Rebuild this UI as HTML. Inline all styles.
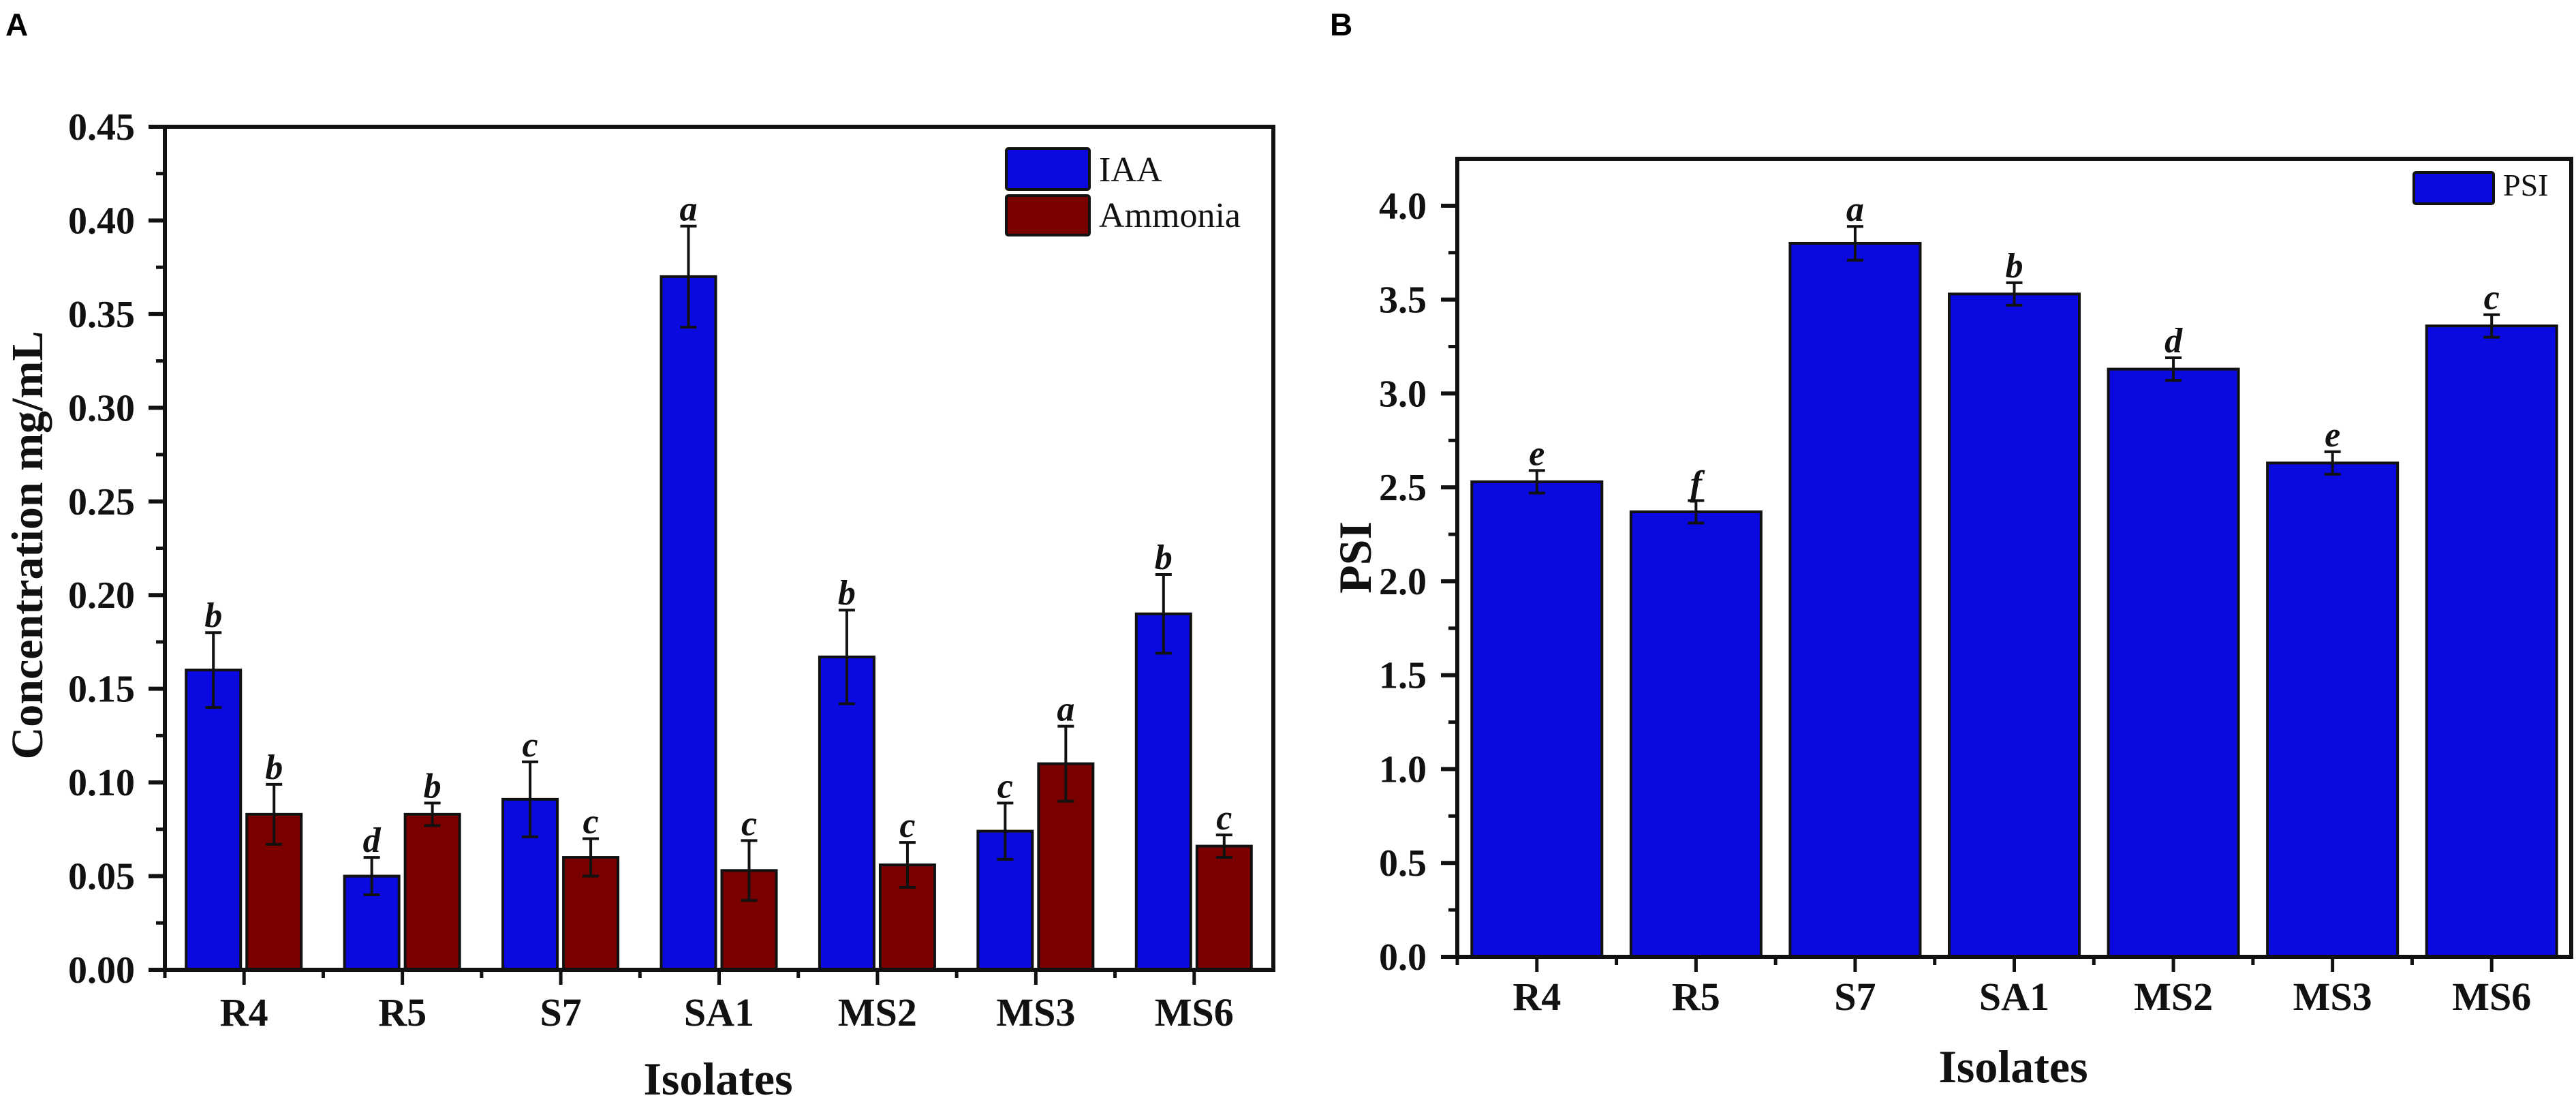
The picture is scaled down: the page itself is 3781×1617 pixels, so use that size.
<!DOCTYPE html>
<html><head><meta charset="utf-8"><style>
html,body{margin:0;padding:0;background:#fff;}
svg{display:block;}
text{font-family:"Liberation Serif",serif;}
</style></head><body>
<svg id="fig" width="3781" height="1617" viewBox="0 0 3781 1617" xmlns="http://www.w3.org/2000/svg">
<text x="8" y="52" font-family="Liberation Sans, sans-serif" font-weight="bold" font-size="46" style="font-family:'Liberation Sans',sans-serif">A</text>
<text x="1952" y="52" font-weight="bold" font-size="46" style="font-family:'Liberation Sans',sans-serif">B</text>
<g id="chartA"></g>
<g id="chartB"></g>
</svg>
<script>
const categories = ["R4","R5","S7","SA1","MS2","MS3","MS6"];
const iaaValues = [0.160,0.050,0.091,0.370,0.167,0.074,0.190];
const iaaErrors = [0.020,0.010,0.020,0.027,0.025,0.015,0.021];
const iaaLetters = ["b","d","c","a","b","c","b"];
const ammoniaValues = [0.083,0.083,0.060,0.053,0.056,0.110,0.066];
const ammoniaErrors = [0.016,0.006,0.010,0.016,0.012,0.020,0.006];
const ammoniaLetters = ["b","b","c","c","c","a","c"];
const yTicksA = ["0.00","0.05","0.10","0.15","0.20","0.25","0.30","0.35","0.40","0.45"];
const psiValues = [2.53,2.37,3.80,3.53,3.13,2.63,3.36];
const psiErrors = [0.06,0.06,0.09,0.06,0.06,0.06,0.06];
const psiLetters = ["e","f","a","b","d","e","c"];
const yTicksB = ["0.0","0.5","1.0","1.5","2.0","2.5","3.0","3.5","4.0"];

const NS="http://www.w3.org/2000/svg";
function mk(parent,tag,attrs,txt){const e=document.createElementNS(NS,tag);for(const k in attrs)e.setAttribute(k,attrs[k]);if(txt!==undefined)e.textContent=txt;parent.appendChild(e);return e;}

function drawChart(g, cfg){
  const L=cfg.left,R=cfg.right,T=cfg.top,B=cfg.bottom;
  const y=v=>B-(v-cfg.ymin)/(cfg.ymax-cfg.ymin)*(B-T);
  const step=(R-L)/categories.length;
  const xc=i=>L+step*(i+0.5);
  // bars
  cfg.series.forEach((s,si)=>{
    s.values.forEach((v,i)=>{
      const cx=xc(i)+s.offset;
      const r=mk(g,'rect',{x:cx-s.width/2,y:y(v),width:s.width,height:B-y(v),fill:s.color,stroke:'#111','stroke-width':4});
      
      
      const e=s.errors[i];
      const eb=mk(g,'path',{d:`M${cx},${y(v+e)}V${y(v-e)}M${cx-12},${y(v+e)}H${cx+12}M${cx-12},${y(v-e)}H${cx+12}`,stroke:'#111','stroke-width':4,fill:'none'});
      
      
      const t=mk(g,'text',{x:cx,y:y(v+e)-8,'text-anchor':'middle','font-size':52,'font-weight':'bold','font-style':'italic',fill:'#111'},s.letters[i]);
      
      
    });
  });
  // frame
  const f=mk(g,'rect',{x:L,y:T,width:R-L,height:B-T,fill:'none',stroke:'#111','stroke-width':6});
  
  
  // y ticks
  const n=cfg.ticks.length;
  cfg.ticks.forEach((lab,i)=>{
    const v=cfg.ymin+i*cfg.tickStep;
    const yy=y(v);
    mk(g,'line',{x1:L-24,x2:L,y1:yy,y2:yy,stroke:'#111','stroke-width':6});
    const t=mk(g,'text',{x:cfg.labelRight,y:yy+19,'text-anchor':'end','font-size':56,'font-weight':'bold',fill:'#111'},lab);
    
    
    const vm=v+cfg.tickStep/2;
    if(vm<cfg.ymax) mk(g,'line',{x1:L-13,x2:L,y1:y(vm),y2:y(vm),stroke:'#111','stroke-width':5});
  });
  // x ticks
  categories.forEach((c,i)=>{
    mk(g,'line',{x1:xc(i),x2:xc(i),y1:B,y2:B+22,stroke:'#111','stroke-width':5});
    mk(g,'line',{x1:L+step*i,x2:L+step*i,y1:B,y2:B+12,stroke:'#111','stroke-width':5});
    const t=mk(g,'text',{x:xc(i),y:cfg.xLabelY,'text-anchor':'middle','font-size':58,'font-weight':'bold',fill:'#111'},c);
    
    
  });
  const xt=mk(g,'text',{x:cfg.xTitleX,y:cfg.xTitleY,'text-anchor':'middle','font-size':68,'font-weight':'bold',fill:'#111'},'Isolates');
  
  
  const yt=mk(g,'text',{x:0,y:0,transform:`translate(${cfg.yTitleX},${cfg.yTitleY}) rotate(-90)`,'text-anchor':'middle','font-size':cfg.yTitleSize,'font-weight':'bold',fill:'#111'},cfg.yTitle);
  
  
  // legend
  cfg.legend.forEach((l,i)=>{
    const lg=mk(g,'g',{});
    
    
    mk(lg,'rect',{x:l.x,y:l.y,width:l.w,height:l.h,fill:l.color,stroke:'#111','stroke-width':4,rx:3});
    mk(lg,'text',{x:l.x+l.w+14,y:l.y+l.h-12,'font-size':l.fs,fill:'#111'},l.label);
  });
}

drawChart(document.getElementById('chartA'),{
  left:242,right:1869,top:186,bottom:1423,ymin:0,ymax:0.45,tickStep:0.05,ticks:yTicksA,labelRight:198,
  xLabelY:1505,xTitleX:1054,xTitleY:1606,yTitleX:62,yTitleY:800,yTitle:'Concentration mg/mL',yTitleSize:66,
  series:[
    {key:'iaa',values:iaaValues,errors:iaaErrors,letters:iaaLetters,color:'#0a0ae0',offset:-45,width:80},
    {key:'ammonia',values:ammoniaValues,errors:ammoniaErrors,letters:ammoniaLetters,color:'#7a0000',offset:44,width:80}
  ],
  legend:[
    {key:'iaa',label:'IAA',color:'#0a0ae0',x:1477,y:218,w:122,h:60,fs:52},
    {key:'ammonia',label:'Ammonia',color:'#7a0000',x:1477,y:287,w:122,h:58,fs:52}
  ]
});
drawChart(document.getElementById('chartB'),{
  left:2139,right:3774,top:233,bottom:1404,ymin:0,ymax:4.25,tickStep:0.5,ticks:yTicksB,labelRight:2094,
  xLabelY:1482,xTitleX:2955,xTitleY:1588,yTitleX:2012,yTitleY:818,yTitle:'PSI',yTitleSize:68,
  series:[
    {key:'psi',values:psiValues,errors:psiErrors,letters:psiLetters,color:'#0a0ae0',offset:0,width:191}
  ],
  legend:[
    {key:'psi',label:'PSI',color:'#0a0ae0',x:3543,y:253,w:117,h:46,fs:46}
  ]
});
</script>
</body></html>
